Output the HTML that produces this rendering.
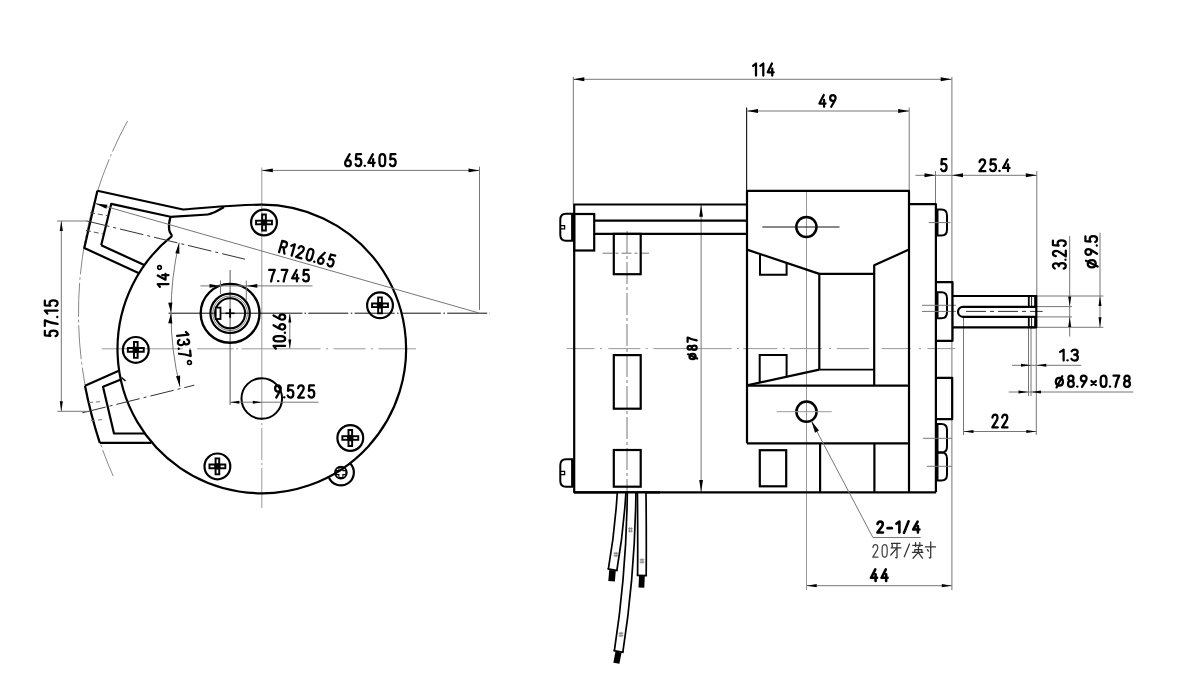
<!DOCTYPE html>
<html><head><meta charset="utf-8"><style>
html,body{margin:0;padding:0;background:#fff;}
svg{display:block;}
text{font-family:"Liberation Sans",sans-serif;stroke:currentColor;}
</style></head><body>
<svg width="1200" height="690" viewBox="0 0 1200 690">
<rect width="1200" height="690" fill="#fff"/>
<path d="M127.52,121.00 A400.5,400.5 0 0 0 113.17,476.00" stroke="#888" stroke-width="1" fill="none" stroke-dasharray="34 3 2.5 3"/>
<line x1="101.70" y1="348.80" x2="183.00" y2="348.80" stroke="#999" stroke-width="1" fill="none"/>
<line x1="189.00" y1="348.80" x2="191.00" y2="348.80" stroke="#999" stroke-width="1" fill="none"/>
<line x1="197.00" y1="348.80" x2="233.50" y2="348.80" stroke="#999" stroke-width="1" fill="none"/>
<line x1="236.00" y1="348.80" x2="238.00" y2="348.80" stroke="#999" stroke-width="1" fill="none"/>
<line x1="241.50" y1="348.80" x2="320.50" y2="348.80" stroke="#999" stroke-width="1" fill="none"/>
<line x1="326.00" y1="348.80" x2="328.00" y2="348.80" stroke="#999" stroke-width="1" fill="none"/>
<line x1="333.50" y1="348.80" x2="365.50" y2="348.80" stroke="#999" stroke-width="1" fill="none"/>
<line x1="371.00" y1="348.80" x2="373.00" y2="348.80" stroke="#999" stroke-width="1" fill="none"/>
<line x1="378.50" y1="348.80" x2="416.00" y2="348.80" stroke="#999" stroke-width="1" fill="none"/>
<line x1="261.80" y1="167.50" x2="261.80" y2="420.00" stroke="#999" stroke-width="1" fill="none"/>
<line x1="261.80" y1="423.00" x2="261.80" y2="425.00" stroke="#999" stroke-width="1" fill="none"/>
<line x1="261.80" y1="428.00" x2="261.80" y2="460.00" stroke="#999" stroke-width="1" fill="none"/>
<line x1="261.80" y1="463.00" x2="261.80" y2="465.00" stroke="#999" stroke-width="1" fill="none"/>
<line x1="261.80" y1="468.00" x2="261.80" y2="508.00" stroke="#999" stroke-width="1" fill="none"/>
<line x1="168.50" y1="313.20" x2="302.50" y2="313.20" stroke="#111" stroke-width="1" fill="none"/>
<line x1="304.50" y1="313.20" x2="306.00" y2="313.20" stroke="#111" stroke-width="1" fill="none"/>
<line x1="308.30" y1="313.20" x2="490.00" y2="313.20" stroke="#111" stroke-width="1" fill="none" stroke-dasharray="40 2.5 1.5 2.3"/>
<line x1="230.10" y1="270.00" x2="230.10" y2="405.00" stroke="#444" stroke-width="0.9" fill="none"/>
<path d="M261.80,204.70 A144.3,144.3 0 1 1 172.17,235.91" stroke="#000" stroke-width="2.2" fill="none" stroke-linejoin="round"/>
<path d="M97.4,190.7 L183,209.5 C210,207.6 235,204.7 261.8,204.7" stroke="#000" stroke-width="2.2" fill="none" stroke-linejoin="round"/>
<polyline points="97.40,190.70 84.30,248.00 138.50,273.00" stroke="#000" stroke-width="2.2" fill="none" stroke-linejoin="round"/>
<polyline points="101.20,245.30 111.20,203.90 170.50,216.80 208.00,214.50" stroke="#000" stroke-width="2.2" fill="none" stroke-linejoin="round"/>
<path d="M208,214.5 C214,213.3 218,210.5 224,207.0" stroke="#000" stroke-width="2.2" fill="none" stroke-linejoin="round"/>
<path d="M170.5,216.8 C169.2,221 168.6,226 169.2,230 C169.6,232.5 171.37,234.91 172.17,235.91" stroke="#000" stroke-width="2.2" fill="none" stroke-linejoin="round"/>
<polyline points="101.20,245.30 144.80,265.20" stroke="#000" stroke-width="2.2" fill="none" stroke-linejoin="round"/>
<line x1="90.00" y1="212.80" x2="107.00" y2="215.60" stroke="#555" stroke-width="1" stroke-dasharray="5 3"/>
<line x1="86.00" y1="230.40" x2="103.00" y2="234.00" stroke="#555" stroke-width="1" stroke-dasharray="5 3"/>
<polyline points="119.40,370.40 85.00,385.70" stroke="#000" stroke-width="2.2" fill="none" stroke-linejoin="round"/>
<path d="M85.0,385.7 Q90.5,414 99.8,442.9" stroke="#000" stroke-width="2.2" fill="none" stroke-linejoin="round"/>
<polyline points="99.80,442.90 151.20,442.90" stroke="#000" stroke-width="2.2" fill="none" stroke-linejoin="round"/>
<polyline points="120.90,379.60 103.00,386.70 114.00,433.50 145.00,433.50" stroke="#000" stroke-width="2.2" fill="none" stroke-linejoin="round"/>
<line x1="121.50" y1="377.50" x2="125.50" y2="381.00" stroke="#000" stroke-width="1.6"/>
<line x1="89.00" y1="402.50" x2="103.00" y2="401.50" stroke="#777" stroke-width="1" stroke-dasharray="4 3"/>
<line x1="91.00" y1="420.50" x2="104.00" y2="419.50" stroke="#777" stroke-width="1" stroke-dasharray="4 3"/>
<path d="M328.66,476.88 A13,13 0 1 0 350.04,463.18" stroke="#000" stroke-width="2.2" fill="none" stroke-linejoin="round"/>
<circle cx="340.90" cy="472.60" r="6.00" stroke="#000" stroke-width="1.6" fill="none"/>
<path d="M338.9,467.6 h4 v3 h3 v4 h-3 v3 h-4 v-3 h-3 v-4 h3 z" stroke="#000" stroke-width="1.1" fill="none"/>
<circle cx="264.00" cy="222.50" r="12.90" stroke="#000" stroke-width="2.2" fill="none"/>
<path d="M261.20,213.60 H266.80 V219.70 H272.90 V225.30 H266.80 V231.40 H261.20 V225.30 H255.10 V219.70 H261.20 Z" fill="#000"/>
<rect x="267.20" y="221.65" width="3.80" height="1.70" fill="#fff"/>
<rect x="257.00" y="221.65" width="3.80" height="1.70" fill="#fff"/>
<rect x="263.15" y="225.70" width="1.70" height="3.80" fill="#fff"/>
<rect x="263.15" y="215.50" width="1.70" height="3.80" fill="#fff"/>
<circle cx="380.00" cy="305.30" r="12.90" stroke="#000" stroke-width="2.2" fill="none"/>
<path d="M377.20,296.40 H382.80 V302.50 H388.90 V308.10 H382.80 V314.20 H377.20 V308.10 H371.10 V302.50 H377.20 Z" fill="#000"/>
<rect x="383.20" y="304.45" width="3.80" height="1.70" fill="#fff"/>
<rect x="373.00" y="304.45" width="3.80" height="1.70" fill="#fff"/>
<rect x="379.15" y="308.50" width="1.70" height="3.80" fill="#fff"/>
<rect x="379.15" y="298.30" width="1.70" height="3.80" fill="#fff"/>
<circle cx="135.80" cy="349.90" r="12.90" stroke="#000" stroke-width="2.2" fill="none"/>
<path d="M133.00,341.00 H138.60 V347.10 H144.70 V352.70 H138.60 V358.80 H133.00 V352.70 H126.90 V347.10 H133.00 Z" fill="#000"/>
<rect x="139.00" y="349.05" width="3.80" height="1.70" fill="#fff"/>
<rect x="128.80" y="349.05" width="3.80" height="1.70" fill="#fff"/>
<rect x="134.95" y="353.10" width="1.70" height="3.80" fill="#fff"/>
<rect x="134.95" y="342.90" width="1.70" height="3.80" fill="#fff"/>
<circle cx="217.40" cy="466.40" r="12.90" stroke="#000" stroke-width="2.2" fill="none"/>
<path d="M214.60,457.50 H220.20 V463.60 H226.30 V469.20 H220.20 V475.30 H214.60 V469.20 H208.50 V463.60 H214.60 Z" fill="#000"/>
<rect x="220.60" y="465.55" width="3.80" height="1.70" fill="#fff"/>
<rect x="210.40" y="465.55" width="3.80" height="1.70" fill="#fff"/>
<rect x="216.55" y="469.60" width="1.70" height="3.80" fill="#fff"/>
<rect x="216.55" y="459.40" width="1.70" height="3.80" fill="#fff"/>
<circle cx="350.30" cy="438.00" r="12.90" stroke="#000" stroke-width="2.2" fill="none"/>
<path d="M347.50,429.10 H353.10 V435.20 H359.20 V440.80 H353.10 V446.90 H347.50 V440.80 H341.40 V435.20 H347.50 Z" fill="#000"/>
<rect x="353.50" y="437.15" width="3.80" height="1.70" fill="#fff"/>
<rect x="343.30" y="437.15" width="3.80" height="1.70" fill="#fff"/>
<rect x="349.45" y="441.20" width="1.70" height="3.80" fill="#fff"/>
<rect x="349.45" y="431.00" width="1.70" height="3.80" fill="#fff"/>
<circle cx="230.10" cy="313.30" r="29.40" stroke="#000" stroke-width="2.4" fill="none"/>
<circle cx="230.10" cy="313.30" r="19.70" stroke="#000" stroke-width="2.2" fill="none"/>
<circle cx="230.10" cy="313.30" r="17.30" stroke="#222" stroke-width="0.6" fill="none"/>
<circle cx="230.10" cy="313.30" r="15.00" stroke="#000" stroke-width="2.1" fill="none"/>
<rect x="215.7" y="307.6" width="4.8" height="11.4" fill="#fff" stroke="#000" stroke-width="1.8"/>
<line x1="225.60" y1="313.30" x2="234.60" y2="313.30" stroke="#000" stroke-width="1.6"/>
<line x1="230.10" y1="308.80" x2="230.10" y2="317.80" stroke="#000" stroke-width="1.9"/>
<circle cx="261.80" cy="398.50" r="20.30" stroke="#000" stroke-width="2.0" fill="none"/>
<line x1="261.80" y1="170.40" x2="479.50" y2="170.40" stroke="#777" stroke-width="1" fill="none"/>
<polygon points="261.80,170.40 272.80,168.45 272.80,172.35" fill="#000"/>
<polygon points="479.50,170.40 468.50,172.35 468.50,168.45" fill="#000"/>
<line x1="479.50" y1="166.70" x2="479.50" y2="310.00" stroke="#777" stroke-width="1" fill="none"/>
<g transform="translate(344.00,167.30) rotate(0) translate(1.125,-13.175) scale(1.0380,1.0042)" fill="none" stroke="#000" stroke-width="2.25" stroke-linecap="round" stroke-linejoin="round" ><path vector-effect="non-scaling-stroke" transform="translate(0.000,0)" d="M4.4,0 L0.9,6.2 C0.3,7.2 0,8 0,9 C0,10.9 1.2,12 2.75,12 C4.3,12 5.5,10.9 5.5,9 C5.5,7.1 4.3,6 2.75,6 C1.9,6 1.2,6.3 0.8,6.8"/><path vector-effect="non-scaling-stroke" transform="translate(10.100,0)" d="M5.2,0 L0.7,0 L0.3,5.3 C1.0,4.7 1.9,4.4 2.8,4.4 C4.5,4.4 5.5,5.9 5.5,8.1 C5.5,10.5 4.3,12 2.6,12 C1.4,12 0.4,11.3 0,10.1"/><path vector-effect="non-scaling-stroke" transform="translate(18.800,0)" d="M0,11.7 L0.3,11.7"/><path vector-effect="non-scaling-stroke" transform="translate(22.300,0)" d="M4.4,0 L0,8.7 L6.2,8.7 M4.7,5.0 L4.7,12"/><path vector-effect="non-scaling-stroke" transform="translate(33.100,0)" d="M2.75,0 C4.7,0 5.5,1.6 5.5,4.2 L5.5,7.8 C5.5,10.4 4.7,12 2.75,12 C0.8,12 0,10.4 0,7.8 L0,4.2 C0,1.6 0.8,0 2.75,0 Z"/><path vector-effect="non-scaling-stroke" transform="translate(43.200,0)" d="M5.2,0 L0.7,0 L0.3,5.3 C1.0,4.7 1.9,4.4 2.8,4.4 C4.5,4.4 5.5,5.9 5.5,8.1 C5.5,10.5 4.3,12 2.6,12 C1.4,12 0.4,11.3 0,10.1"/></g>
<line x1="95.50" y1="203.50" x2="479.00" y2="313.00" stroke="#777" stroke-width="1" fill="none"/>
<polygon points="95.30,203.40 107.43,204.63 106.25,208.76" fill="#000"/>
<g transform="translate(277.70,252.90) rotate(15.7) translate(1.125,-12.875) scale(0.9901,0.9792)" fill="none" stroke="#000" stroke-width="2.25" stroke-linecap="round" stroke-linejoin="round" ><path vector-effect="non-scaling-stroke" transform="translate(0.000,0)" d="M0,12 L0,0 L3.2,0 C4.8,0 5.6,1.2 5.6,3.1 C5.6,5 4.7,6.2 3.1,6.2 L0,6.2 M3,6.2 L5.6,12"/><path vector-effect="non-scaling-stroke" transform="translate(10.200,0)" d="M0,2.4 L3,0 L3,12"/><path vector-effect="non-scaling-stroke" transform="translate(17.800,0)" d="M0.1,2.7 C0.4,0.9 1.4,0 2.8,0 C4.4,0 5.4,1.1 5.4,2.9 C5.4,4.3 4.8,5.3 3.8,6.5 L0,12 L5.6,12"/><path vector-effect="non-scaling-stroke" transform="translate(28.000,0)" d="M2.75,0 C4.7,0 5.5,1.6 5.5,4.2 L5.5,7.8 C5.5,10.4 4.7,12 2.75,12 C0.8,12 0,10.4 0,7.8 L0,4.2 C0,1.6 0.8,0 2.75,0 Z"/><path vector-effect="non-scaling-stroke" transform="translate(36.700,0)" d="M0,11.7 L0.3,11.7"/><path vector-effect="non-scaling-stroke" transform="translate(40.200,0)" d="M4.4,0 L0.9,6.2 C0.3,7.2 0,8 0,9 C0,10.9 1.2,12 2.75,12 C4.3,12 5.5,10.9 5.5,9 C5.5,7.1 4.3,6 2.75,6 C1.9,6 1.2,6.3 0.8,6.8"/><path vector-effect="non-scaling-stroke" transform="translate(50.300,0)" d="M5.2,0 L0.7,0 L0.3,5.3 C1.0,4.7 1.9,4.4 2.8,4.4 C4.5,4.4 5.5,5.9 5.5,8.1 C5.5,10.5 4.3,12 2.6,12 C1.4,12 0.4,11.3 0,10.1"/></g>
<line x1="200.40" y1="285.90" x2="312.50" y2="285.90" stroke="#777" stroke-width="1" fill="none"/>
<line x1="220.50" y1="280.50" x2="220.50" y2="294.00" stroke="#777" stroke-width="1" fill="none"/>
<line x1="246.30" y1="280.50" x2="246.30" y2="300.00" stroke="#777" stroke-width="1" fill="none"/>
<polygon points="220.50,285.90 209.50,287.85 209.50,283.95" fill="#000"/>
<polygon points="246.30,285.90 257.30,283.95 257.30,287.85" fill="#000"/>
<g transform="translate(268.00,282.60) rotate(0) translate(1.125,-12.675) scale(1.0298,0.9625)" fill="none" stroke="#000" stroke-width="2.25" stroke-linecap="round" stroke-linejoin="round" ><path vector-effect="non-scaling-stroke" transform="translate(0.000,0)" d="M0,0 L5.5,0 C3.8,3.5 2.6,7 1.9,12"/><path vector-effect="non-scaling-stroke" transform="translate(8.700,0)" d="M0,11.7 L0.3,11.7"/><path vector-effect="non-scaling-stroke" transform="translate(12.200,0)" d="M0,0 L5.5,0 C3.8,3.5 2.6,7 1.9,12"/><path vector-effect="non-scaling-stroke" transform="translate(22.300,0)" d="M4.4,0 L0,8.7 L6.2,8.7 M4.7,5.0 L4.7,12"/><path vector-effect="non-scaling-stroke" transform="translate(33.100,0)" d="M5.2,0 L0.7,0 L0.3,5.3 C1.0,4.7 1.9,4.4 2.8,4.4 C4.5,4.4 5.5,5.9 5.5,8.1 C5.5,10.5 4.3,12 2.6,12 C1.4,12 0.4,11.3 0,10.1"/></g>
<line x1="289.80" y1="313.30" x2="289.80" y2="348.60" stroke="#777" stroke-width="1" fill="none"/>
<polygon points="289.80,313.60 291.30,322.60 288.30,322.60" fill="#000"/>
<polygon points="289.80,348.40 288.30,339.40 291.30,339.40" fill="#000"/>
<g transform="translate(286.30,349.80) rotate(-90) translate(1.125,-12.775) scale(0.9675,0.9708)" fill="none" stroke="#000" stroke-width="2.25" stroke-linecap="round" stroke-linejoin="round" ><path vector-effect="non-scaling-stroke" transform="translate(0.000,0)" d="M0,2.4 L3,0 L3,12"/><path vector-effect="non-scaling-stroke" transform="translate(7.600,0)" d="M2.75,0 C4.7,0 5.5,1.6 5.5,4.2 L5.5,7.8 C5.5,10.4 4.7,12 2.75,12 C0.8,12 0,10.4 0,7.8 L0,4.2 C0,1.6 0.8,0 2.75,0 Z"/><path vector-effect="non-scaling-stroke" transform="translate(16.300,0)" d="M0,11.7 L0.3,11.7"/><path vector-effect="non-scaling-stroke" transform="translate(19.800,0)" d="M4.4,0 L0.9,6.2 C0.3,7.2 0,8 0,9 C0,10.9 1.2,12 2.75,12 C4.3,12 5.5,10.9 5.5,9 C5.5,7.1 4.3,6 2.75,6 C1.9,6 1.2,6.3 0.8,6.8"/><path vector-effect="non-scaling-stroke" transform="translate(29.900,0)" d="M4.4,0 L0.9,6.2 C0.3,7.2 0,8 0,9 C0,10.9 1.2,12 2.75,12 C4.3,12 5.5,10.9 5.5,9 C5.5,7.1 4.3,6 2.75,6 C1.9,6 1.2,6.3 0.8,6.8"/></g>
<line x1="230.10" y1="402.20" x2="318.50" y2="402.20" stroke="#777" stroke-width="1" fill="none"/>
<polygon points="230.30,402.20 239.30,400.70 239.30,403.70" fill="#000"/>
<polygon points="261.80,402.20 252.80,403.70 252.80,400.70" fill="#000"/>
<g transform="translate(274.00,398.70) rotate(0) translate(1.125,-13.275) scale(1.0303,1.0125)" fill="none" stroke="#000" stroke-width="2.25" stroke-linecap="round" stroke-linejoin="round" ><path vector-effect="non-scaling-stroke" transform="translate(0.000,0)" d="M1.1,12 L4.6,5.8 C5.2,4.8 5.5,4 5.5,3 C5.5,1.1 4.3,0 2.75,0 C1.2,0 0,1.1 0,3 C0,4.9 1.2,6 2.75,6 C3.6,6 4.3,5.7 4.7,5.2"/><path vector-effect="non-scaling-stroke" transform="translate(8.700,0)" d="M0,11.7 L0.3,11.7"/><path vector-effect="non-scaling-stroke" transform="translate(12.200,0)" d="M5.2,0 L0.7,0 L0.3,5.3 C1.0,4.7 1.9,4.4 2.8,4.4 C4.5,4.4 5.5,5.9 5.5,8.1 C5.5,10.5 4.3,12 2.6,12 C1.4,12 0.4,11.3 0,10.1"/><path vector-effect="non-scaling-stroke" transform="translate(22.300,0)" d="M0.1,2.7 C0.4,0.9 1.4,0 2.8,0 C4.4,0 5.4,1.1 5.4,2.9 C5.4,4.3 4.8,5.3 3.8,6.5 L0,12 L5.6,12"/><path vector-effect="non-scaling-stroke" transform="translate(32.500,0)" d="M5.2,0 L0.7,0 L0.3,5.3 C1.0,4.7 1.9,4.4 2.8,4.4 C4.5,4.4 5.5,5.9 5.5,8.1 C5.5,10.5 4.3,12 2.6,12 C1.4,12 0.4,11.3 0,10.1"/></g>
<path d="M179.14,242.67 A308,308 0 0 0 171.00,313.00 A308,308 0 0 0 179.95,386.73" stroke="#777" stroke-width="1" fill="none"/>
<polygon points="179.14,242.67 179.45,253.86 175.31,253.19" fill="#000"/>
<polygon points="171.00,312.70 168.21,302.87 172.40,302.58" fill="#000"/>
<polygon points="171.00,313.30 172.40,323.42 168.21,323.13" fill="#000"/>
<polygon points="179.95,386.73 176.00,376.25 180.14,375.53" fill="#000"/>
<g transform="translate(169.60,288.00) rotate(-90) translate(1.125,-11.875) scale(0.9487,0.8958)" fill="none" stroke="#000" stroke-width="2.25" stroke-linecap="round" stroke-linejoin="round" ><path vector-effect="non-scaling-stroke" transform="translate(0.000,0)" d="M0,2.4 L3,0 L3,12"/><path vector-effect="non-scaling-stroke" transform="translate(7.600,0)" d="M4.4,0 L0,8.7 L6.2,8.7 M4.7,5.0 L4.7,12"/><path vector-effect="non-scaling-stroke" transform="translate(18.400,0)" stroke-width="1.69" d="M2,0 C3.1,0 4,0.9 4,2 C4,3.1 3.1,4 2,4 C0.9,4 0,3.1 0,2 C0,0.9 0.9,0 2,0 Z"/></g>
<g transform="translate(175.60,331.90) rotate(84) translate(1.125,-12.475) scale(0.9661,0.9458)" fill="none" stroke="#000" stroke-width="2.25" stroke-linecap="round" stroke-linejoin="round" ><path vector-effect="non-scaling-stroke" transform="translate(0.000,0)" d="M0,2.4 L3,0 L3,12"/><path vector-effect="non-scaling-stroke" transform="translate(7.600,0)" d="M0.2,1.7 C0.7,0.5 1.6,0 2.8,0 C4.4,0 5.3,1.1 5.3,2.8 C5.3,4.5 4.2,5.5 2.4,5.5 C4.4,5.5 5.5,6.7 5.5,8.6 C5.5,10.7 4.3,12 2.7,12 C1.4,12 0.4,11.3 0,10.1"/><path vector-effect="non-scaling-stroke" transform="translate(16.300,0)" d="M0,11.7 L0.3,11.7"/><path vector-effect="non-scaling-stroke" transform="translate(19.800,0)" d="M0,0 L5.5,0 C3.8,3.5 2.6,7 1.9,12"/><path vector-effect="non-scaling-stroke" transform="translate(29.900,0)" stroke-width="1.69" d="M2,0 C3.1,0 4,0.9 4,2 C4,3.1 3.1,4 2,4 C0.9,4 0,3.1 0,2 C0,0.9 0.9,0 2,0 Z"/></g>
<line x1="86.00" y1="220.80" x2="245.00" y2="259.20" stroke="#333" stroke-width="1" stroke-dasharray="24 4 3 4"/>
<line x1="82.40" y1="412.80" x2="194.30" y2="385.20" stroke="#333" stroke-width="1" stroke-dasharray="24 4 3 4"/>
<line x1="61.30" y1="221.00" x2="61.30" y2="411.30" stroke="#777" stroke-width="1" fill="none"/>
<line x1="57.00" y1="221.00" x2="86.00" y2="221.00" stroke="#777" stroke-width="1" fill="none"/>
<line x1="57.40" y1="411.30" x2="87.80" y2="411.30" stroke="#777" stroke-width="1" fill="none"/>
<polygon points="61.30,221.00 62.90,231.00 59.70,231.00" fill="#000"/>
<polygon points="61.30,411.30 59.70,401.30 62.90,401.30" fill="#000"/>
<g transform="translate(58.70,337.20) rotate(-90) translate(1.125,-13.875) scale(1.0071,1.0625)" fill="none" stroke="#000" stroke-width="2.25" stroke-linecap="round" stroke-linejoin="round" ><path vector-effect="non-scaling-stroke" transform="translate(0.000,0)" d="M5.2,0 L0.7,0 L0.3,5.3 C1.0,4.7 1.9,4.4 2.8,4.4 C4.5,4.4 5.5,5.9 5.5,8.1 C5.5,10.5 4.3,12 2.6,12 C1.4,12 0.4,11.3 0,10.1"/><path vector-effect="non-scaling-stroke" transform="translate(10.100,0)" d="M0,0 L5.5,0 C3.8,3.5 2.6,7 1.9,12"/><path vector-effect="non-scaling-stroke" transform="translate(18.800,0)" d="M0,11.7 L0.3,11.7"/><path vector-effect="non-scaling-stroke" transform="translate(22.300,0)" d="M0,2.4 L3,0 L3,12"/><path vector-effect="non-scaling-stroke" transform="translate(29.900,0)" d="M5.2,0 L0.7,0 L0.3,5.3 C1.0,4.7 1.9,4.4 2.8,4.4 C4.5,4.4 5.5,5.9 5.5,8.1 C5.5,10.5 4.3,12 2.6,12 C1.4,12 0.4,11.3 0,10.1"/></g>
<line x1="573.30" y1="77.00" x2="573.30" y2="204.50" stroke="#777" stroke-width="1" fill="none"/>
<line x1="951.90" y1="77.00" x2="951.90" y2="590.00" stroke="#777" stroke-width="1" fill="none"/>
<line x1="746.60" y1="107.50" x2="746.60" y2="190.80" stroke="#222" stroke-width="1.2"/>
<line x1="909.20" y1="107.50" x2="909.20" y2="190.80" stroke="#777" stroke-width="1" fill="none"/>
<line x1="935.50" y1="171.00" x2="935.50" y2="204.00" stroke="#777" stroke-width="1" fill="none"/>
<line x1="1036.80" y1="171.00" x2="1036.80" y2="296.00" stroke="#777" stroke-width="1" fill="none"/>
<line x1="1036.30" y1="327.00" x2="1036.30" y2="435.00" stroke="#777" stroke-width="1" fill="none"/>
<line x1="963.50" y1="317.00" x2="963.50" y2="435.00" stroke="#777" stroke-width="1" fill="none"/>
<line x1="1028.50" y1="327.00" x2="1028.50" y2="396.00" stroke="#777" stroke-width="1" fill="none"/>
<line x1="1031.00" y1="327.00" x2="1031.00" y2="396.00" stroke="#777" stroke-width="1" fill="none"/>
<line x1="1036.00" y1="296.00" x2="1103.40" y2="296.00" stroke="#777" stroke-width="1" fill="none"/>
<line x1="1036.00" y1="327.30" x2="1103.40" y2="327.30" stroke="#777" stroke-width="1" fill="none"/>
<line x1="1036.00" y1="306.60" x2="1072.00" y2="306.60" stroke="#777" stroke-width="1" fill="none"/>
<line x1="1036.00" y1="316.90" x2="1072.00" y2="316.90" stroke="#777" stroke-width="1" fill="none"/>
<line x1="566.70" y1="348.60" x2="594.50" y2="348.60" stroke="#999" stroke-width="1" fill="none"/>
<line x1="600.00" y1="348.60" x2="602.00" y2="348.60" stroke="#999" stroke-width="1" fill="none"/>
<line x1="608.30" y1="348.60" x2="640.30" y2="348.60" stroke="#999" stroke-width="1" fill="none"/>
<line x1="645.70" y1="348.60" x2="647.70" y2="348.60" stroke="#999" stroke-width="1" fill="none"/>
<line x1="653.30" y1="348.60" x2="731.70" y2="348.60" stroke="#999" stroke-width="1" fill="none"/>
<line x1="737.00" y1="348.60" x2="739.00" y2="348.60" stroke="#999" stroke-width="1" fill="none"/>
<line x1="743.30" y1="348.60" x2="777.50" y2="348.60" stroke="#999" stroke-width="1" fill="none"/>
<line x1="782.80" y1="348.60" x2="784.80" y2="348.60" stroke="#999" stroke-width="1" fill="none"/>
<line x1="790.00" y1="348.60" x2="822.00" y2="348.60" stroke="#999" stroke-width="1" fill="none"/>
<line x1="829.00" y1="348.60" x2="831.00" y2="348.60" stroke="#999" stroke-width="1" fill="none"/>
<line x1="836.70" y1="348.60" x2="869.20" y2="348.60" stroke="#999" stroke-width="1" fill="none"/>
<line x1="873.00" y1="348.60" x2="875.00" y2="348.60" stroke="#999" stroke-width="1" fill="none"/>
<line x1="881.70" y1="348.60" x2="910.80" y2="348.60" stroke="#999" stroke-width="1" fill="none"/>
<line x1="919.00" y1="348.60" x2="921.00" y2="348.60" stroke="#999" stroke-width="1" fill="none"/>
<line x1="927.50" y1="348.60" x2="955.00" y2="348.60" stroke="#999" stroke-width="1" fill="none"/>
<line x1="806.50" y1="191.00" x2="806.50" y2="590.00" stroke="#999" stroke-width="1" fill="none"/>
<line x1="627.00" y1="231.00" x2="627.00" y2="492.00" stroke="#777" stroke-width="1" stroke-dasharray="22 3 3 3"/>
<line x1="602.50" y1="253.20" x2="649.00" y2="253.20" stroke="#777" stroke-width="1" stroke-dasharray="10 3 3 3"/>
<line x1="966.00" y1="311.40" x2="1042.60" y2="311.40" stroke="#333" stroke-width="1" stroke-dasharray="20 4 4 4"/>
<line x1="701.10" y1="204.50" x2="701.10" y2="492.30" stroke="#777" stroke-width="1" fill="none"/>
<polyline points="747.00,204.50 574.20,204.50 574.20,492.30 935.90,492.30" stroke="#000" stroke-width="2.2" fill="none" stroke-linejoin="round"/>
<path d="M573,213.8 H566 Q560.3,213.8 560.3,219.8 V234.7 Q560.3,240.7 566,240.7 H573" stroke="#000" stroke-width="2" fill="none"/>
<line x1="572.60" y1="213.80" x2="572.60" y2="240.70" stroke="#000" stroke-width="3"/>
<path d="M560.5,225.7 H564.6 V228.8 H560.5" stroke="#000" stroke-width="1.3" fill="none"/>
<path d="M573,459.3 H566 Q560.3,459.3 560.3,465.3 V480.7 Q560.3,486.7 566,486.7 H573" stroke="#000" stroke-width="2" fill="none"/>
<line x1="572.60" y1="459.30" x2="572.60" y2="486.70" stroke="#000" stroke-width="3"/>
<path d="M560.5,471.4 H564.6 V474.6 H560.5" stroke="#000" stroke-width="1.3" fill="none"/>
<rect x="574.2" y="214" width="20" height="36.5" stroke="#000" stroke-width="2.2" fill="none"/>
<line x1="594.20" y1="220.60" x2="747.00" y2="220.60" stroke="#000" stroke-width="2.2" fill="none" stroke-linejoin="round"/>
<line x1="594.20" y1="233.90" x2="747.00" y2="233.90" stroke="#000" stroke-width="2.2" fill="none" stroke-linejoin="round"/>
<rect x="613.8" y="233.9" width="26.9" height="40.3" stroke="#000" stroke-width="2.2" fill="none"/>
<rect x="613.8" y="355.1" width="26.9" height="53.6" stroke="#000" stroke-width="2.2" fill="none"/>
<rect x="613.8" y="450" width="26.9" height="36.7" stroke="#000" stroke-width="2.2" fill="none"/>
<polyline points="747.00,443.30 747.00,190.80 909.00,190.80 909.00,492.30" stroke="#000" stroke-width="2.2" fill="none" stroke-linejoin="round"/>
<line x1="747.00" y1="385.60" x2="909.00" y2="385.60" stroke="#000" stroke-width="2.2" fill="none" stroke-linejoin="round"/>
<line x1="747.00" y1="443.30" x2="909.00" y2="443.30" stroke="#000" stroke-width="2.2" fill="none" stroke-linejoin="round"/>
<polyline points="747.00,249.60 819.30,273.90 819.30,369.60" stroke="#000" stroke-width="2.2" fill="none" stroke-linejoin="round"/>
<line x1="819.30" y1="273.90" x2="874.20" y2="273.90" stroke="#000" stroke-width="2.2" fill="none" stroke-linejoin="round"/>
<polyline points="909.00,249.60 874.20,265.20 874.20,385.60" stroke="#000" stroke-width="2.2" fill="none" stroke-linejoin="round"/>
<line x1="819.30" y1="369.60" x2="874.20" y2="369.60" stroke="#000" stroke-width="1.8"/>
<line x1="819.30" y1="369.60" x2="747.00" y2="385.40" stroke="#000" stroke-width="2.2" fill="none" stroke-linejoin="round"/>
<polyline points="760.00,254.00 760.00,274.80 786.60,274.80 786.60,262.90" stroke="#000" stroke-width="2" fill="none"/>
<polyline points="759.70,382.50 759.70,355.10 786.60,355.10 786.60,376.70" stroke="#000" stroke-width="2" fill="none"/>
<rect x="759.8" y="450.2" width="26.4" height="36.1" stroke="#000" stroke-width="2.2" fill="none"/>
<line x1="820.10" y1="443.30" x2="820.10" y2="492.30" stroke="#000" stroke-width="2.2" fill="none" stroke-linejoin="round"/>
<line x1="874.40" y1="443.30" x2="874.40" y2="492.30" stroke="#000" stroke-width="2.2" fill="none" stroke-linejoin="round"/>
<circle cx="806.40" cy="227.00" r="10.10" stroke="#000" stroke-width="2.5" fill="none"/>
<line x1="762.30" y1="227.00" x2="839.50" y2="227.00" stroke="#111" stroke-width="1"/>
<circle cx="806.50" cy="411.70" r="10.10" stroke="#000" stroke-width="2.5" fill="none"/>
<line x1="776.70" y1="411.70" x2="831.70" y2="411.70" stroke="#999" stroke-width="1" fill="none"/>
<polyline points="909.00,204.10 935.90,204.10 935.90,492.30" stroke="#000" stroke-width="2.2" fill="none" stroke-linejoin="round"/>
<path d="M936.5,209.6 H941.5 Q947,209.6 947,215.6 V229.6 Q947,235.6 941.5,235.6 H936.5" stroke="#000" stroke-width="2" fill="none"/>
<line x1="937.00" y1="209.60" x2="937.00" y2="235.60" stroke="#000" stroke-width="3"/>
<path d="M936.5,292.2 H941.5 Q947,292.2 947,298.2 V312.3 Q947,318.3 941.5,318.3 H936.5" stroke="#000" stroke-width="2" fill="none"/>
<line x1="937.00" y1="292.20" x2="937.00" y2="318.30" stroke="#000" stroke-width="3"/>
<path d="M936.5,424.0 H941.5 Q947,424.0 947,430.0 V446.4 Q947,452.4 941.5,452.4 H936.5" stroke="#000" stroke-width="2" fill="none"/>
<line x1="937.00" y1="424.00" x2="937.00" y2="452.40" stroke="#000" stroke-width="3"/>
<path d="M936.5,452.4 H941.5 Q947,452.4 947,458.4 V474.5 Q947,480.5 941.5,480.5 H936.5" stroke="#000" stroke-width="2" fill="none"/>
<line x1="937.00" y1="452.40" x2="937.00" y2="480.50" stroke="#000" stroke-width="3"/>
<line x1="928.70" y1="222.60" x2="950.40" y2="222.60" stroke="#777" stroke-width="1" fill="none"/>
<line x1="922.00" y1="305.30" x2="956.00" y2="305.30" stroke="#777" stroke-width="1" fill="none"/>
<line x1="922.00" y1="311.40" x2="956.00" y2="311.40" stroke="#777" stroke-width="1" fill="none"/>
<line x1="923.00" y1="438.30" x2="952.00" y2="438.30" stroke="#777" stroke-width="1" fill="none"/>
<line x1="927.00" y1="466.30" x2="952.00" y2="466.30" stroke="#777" stroke-width="1" fill="none"/>
<polyline points="935.90,282.20 952.50,282.20 952.50,340.80 935.90,340.80" stroke="#000" stroke-width="2.2" fill="none" stroke-linejoin="round"/>
<polyline points="935.90,377.80 952.20,377.80 952.20,419.10 935.90,419.10" stroke="#000" stroke-width="2.2" fill="none" stroke-linejoin="round"/>
<polyline points="952.50,296.00 1036.30,296.00 1036.30,327.30 952.50,327.30" stroke="#000" stroke-width="2.2" fill="none" stroke-linejoin="round"/>
<rect x="1028.8" y="296" width="7.0" height="10.8" rx="1.2" fill="none" stroke="#000" stroke-width="1.8"/>
<line x1="1031.60" y1="296.00" x2="1031.60" y2="306.80" stroke="#000" stroke-width="0.9"/>
<line x1="1035.00" y1="296.00" x2="1035.00" y2="306.80" stroke="#000" stroke-width="1.6"/>
<rect x="1028.8" y="316.8" width="7.0" height="10.5" rx="1.2" fill="none" stroke="#000" stroke-width="1.8"/>
<line x1="1031.60" y1="316.80" x2="1031.60" y2="327.30" stroke="#000" stroke-width="0.9"/>
<line x1="1035.00" y1="316.80" x2="1035.00" y2="327.30" stroke="#000" stroke-width="1.6"/>
<path d="M1036,306.8 H963 A5,5 0 0 0 963,316.8 H1036" stroke="#000" stroke-width="2.2" fill="none" stroke-linejoin="round"/>
<path d="M641.7,492.5 Q642.2,535 641.9,575.5" fill="none" stroke="#000" stroke-width="10.30"/>
<path d="M641.7,492.5 Q642.2,535 641.9,575.5" fill="none" stroke="#fff" stroke-width="6.90"/>
<line x1="636.75" y1="575.46" x2="647.05" y2="575.54" stroke="#000" stroke-width="1.7"/>
<line x1="641.90" y1="576.00" x2="641.4" y2="587.7" stroke="#000" stroke-width="5.8"/>
<path d="M631.6,492.5 Q630.8,573 618.6,651.5" fill="none" stroke="#000" stroke-width="10.30"/>
<path d="M631.6,492.5 Q630.8,573 618.6,651.5" fill="none" stroke="#fff" stroke-width="6.90"/>
<line x1="613.51" y1="650.71" x2="623.69" y2="652.29" stroke="#000" stroke-width="1.7"/>
<line x1="618.52" y1="651.99" x2="616.4" y2="663.3" stroke="#000" stroke-width="6.2"/>
<path d="M621.6,492.5 Q619.2,532 612.6,569.8" fill="none" stroke="#000" stroke-width="10.30"/>
<path d="M621.6,492.5 Q619.2,532 612.6,569.8" fill="none" stroke="#fff" stroke-width="6.90"/>
<line x1="607.53" y1="568.91" x2="617.67" y2="570.69" stroke="#000" stroke-width="1.7"/>
<line x1="612.51" y1="570.29" x2="611.6" y2="581.2" stroke="#000" stroke-width="6.6"/>
<path d="M613.5,553.3 h4.8 M613.5,555.7 h4.8 M615.0,551.9 v5.2 M616.8,551.9 v5.2" stroke="#777" stroke-width="0.8"/>
<path d="M628.0,528.6999999999999 h4.8 M628.0,531.1 h4.8 M629.5,527.3 v5.2 M631.3,527.3 v5.2" stroke="#777" stroke-width="0.8"/>
<path d="M639.6,559.8 h4.8 M639.6,562.2 h4.8 M641.1,558.4 v5.2 M642.9,558.4 v5.2" stroke="#777" stroke-width="0.8"/>
<path d="M618.6,633.3 h4.8 M618.6,635.7 h4.8 M620.1,631.9 v5.2 M621.9,631.9 v5.2" stroke="#777" stroke-width="0.8"/>
<line x1="574.20" y1="492.30" x2="660.00" y2="492.30" stroke="#000" stroke-width="2.2" fill="none" stroke-linejoin="round"/>
<line x1="573.30" y1="79.30" x2="951.70" y2="79.30" stroke="#777" stroke-width="1" fill="none"/>
<polygon points="573.30,79.30 584.30,77.35 584.30,81.25" fill="#000"/>
<polygon points="951.70,79.30 940.70,81.25 940.70,77.35" fill="#000"/>
<g transform="translate(752.00,76.70) rotate(0) translate(1.125,-13.175) scale(0.9603,1.0042)" fill="none" stroke="#000" stroke-width="2.25" stroke-linecap="round" stroke-linejoin="round" ><path vector-effect="non-scaling-stroke" transform="translate(0.000,0)" d="M0,2.4 L3,0 L3,12"/><path vector-effect="non-scaling-stroke" transform="translate(7.600,0)" d="M0,2.4 L3,0 L3,12"/><path vector-effect="non-scaling-stroke" transform="translate(15.200,0)" d="M4.4,0 L0,8.7 L6.2,8.7 M4.7,5.0 L4.7,12"/></g>
<line x1="746.70" y1="111.00" x2="909.30" y2="111.00" stroke="#777" stroke-width="1" fill="none"/>
<polygon points="747.00,111.00 758.00,109.05 758.00,112.95" fill="#000"/>
<polygon points="909.20,111.00 898.20,112.95 898.20,109.05" fill="#000"/>
<g transform="translate(818.30,107.90) rotate(0) translate(1.125,-12.875) scale(0.9908,0.9792)" fill="none" stroke="#000" stroke-width="2.25" stroke-linecap="round" stroke-linejoin="round" ><path vector-effect="non-scaling-stroke" transform="translate(0.000,0)" d="M4.4,0 L0,8.7 L6.2,8.7 M4.7,5.0 L4.7,12"/><path vector-effect="non-scaling-stroke" transform="translate(10.800,0)" d="M1.1,12 L4.6,5.8 C5.2,4.8 5.5,4 5.5,3 C5.5,1.1 4.3,0 2.75,0 C1.2,0 0,1.1 0,3 C0,4.9 1.2,6 2.75,6 C3.6,6 4.3,5.7 4.7,5.2"/></g>
<line x1="915.50" y1="175.30" x2="1036.80" y2="175.30" stroke="#777" stroke-width="1" fill="none"/>
<polygon points="935.50,175.30 924.50,177.25 924.50,173.35" fill="#000"/>
<polygon points="952.00,175.30 963.00,173.35 963.00,177.25" fill="#000"/>
<polygon points="1036.80,175.30 1025.80,177.25 1025.80,173.35" fill="#000"/>
<g transform="translate(940.00,172.30) rotate(0) translate(1.125,-13.175) scale(0.9909,1.0042)" fill="none" stroke="#000" stroke-width="2.25" stroke-linecap="round" stroke-linejoin="round" ><path vector-effect="non-scaling-stroke" transform="translate(0.000,0)" d="M5.2,0 L0.7,0 L0.3,5.3 C1.0,4.7 1.9,4.4 2.8,4.4 C4.5,4.4 5.5,5.9 5.5,8.1 C5.5,10.5 4.3,12 2.6,12 C1.4,12 0.4,11.3 0,10.1"/></g>
<g transform="translate(978.30,172.30) rotate(0) translate(1.125,-12.875) scale(1.0542,0.9792)" fill="none" stroke="#000" stroke-width="2.25" stroke-linecap="round" stroke-linejoin="round" ><path vector-effect="non-scaling-stroke" transform="translate(0.000,0)" d="M0.1,2.7 C0.4,0.9 1.4,0 2.8,0 C4.4,0 5.4,1.1 5.4,2.9 C5.4,4.3 4.8,5.3 3.8,6.5 L0,12 L5.6,12"/><path vector-effect="non-scaling-stroke" transform="translate(10.200,0)" d="M5.2,0 L0.7,0 L0.3,5.3 C1.0,4.7 1.9,4.4 2.8,4.4 C4.5,4.4 5.5,5.9 5.5,8.1 C5.5,10.5 4.3,12 2.6,12 C1.4,12 0.4,11.3 0,10.1"/><path vector-effect="non-scaling-stroke" transform="translate(18.900,0)" d="M0,11.7 L0.3,11.7"/><path vector-effect="non-scaling-stroke" transform="translate(22.400,0)" d="M4.4,0 L0,8.7 L6.2,8.7 M4.7,5.0 L4.7,12"/></g>
<line x1="1069.70" y1="236.00" x2="1069.70" y2="336.50" stroke="#777" stroke-width="1" fill="none"/>
<polygon points="1069.70,306.60 1068.20,296.60 1071.20,296.60" fill="#000"/>
<polygon points="1069.70,316.90 1071.20,326.90 1068.20,326.90" fill="#000"/>
<g transform="translate(1066.90,269.80) rotate(-90) translate(1.125,-13.975) scale(1.0161,1.0708)" fill="none" stroke="#000" stroke-width="2.25" stroke-linecap="round" stroke-linejoin="round" ><path vector-effect="non-scaling-stroke" transform="translate(0.000,0)" d="M0.2,1.7 C0.7,0.5 1.6,0 2.8,0 C4.4,0 5.3,1.1 5.3,2.8 C5.3,4.5 4.2,5.5 2.4,5.5 C4.4,5.5 5.5,6.7 5.5,8.6 C5.5,10.7 4.3,12 2.7,12 C1.4,12 0.4,11.3 0,10.1"/><path vector-effect="non-scaling-stroke" transform="translate(8.700,0)" d="M0,11.7 L0.3,11.7"/><path vector-effect="non-scaling-stroke" transform="translate(12.200,0)" d="M0.1,2.7 C0.4,0.9 1.4,0 2.8,0 C4.4,0 5.4,1.1 5.4,2.9 C5.4,4.3 4.8,5.3 3.8,6.5 L0,12 L5.6,12"/><path vector-effect="non-scaling-stroke" transform="translate(22.400,0)" d="M5.2,0 L0.7,0 L0.3,5.3 C1.0,4.7 1.9,4.4 2.8,4.4 C4.5,4.4 5.5,5.9 5.5,8.1 C5.5,10.5 4.3,12 2.6,12 C1.4,12 0.4,11.3 0,10.1"/></g>
<line x1="1100.00" y1="232.70" x2="1100.00" y2="327.30" stroke="#777" stroke-width="1" fill="none"/>
<polygon points="1100.00,296.00 1101.50,306.00 1098.50,306.00" fill="#000"/>
<polygon points="1100.00,327.30 1098.50,317.30 1101.50,317.30" fill="#000"/>
<g transform="translate(1098.20,268.60) rotate(-90) translate(1.125,-12.775) scale(1.0627,0.9708)" fill="none" stroke="#000" stroke-width="2.25" stroke-linecap="round" stroke-linejoin="round" ><path vector-effect="non-scaling-stroke" transform="translate(0.000,0)" d="M3.6,2.4 C5.5,2.4 7.0,4.0 7.0,6.8 C7.0,9.4 5.6,10.6 3.6,10.6 C1.6,10.6 0.2,9.4 0.2,6.8 C0.2,4.0 1.7,2.4 3.6,2.4 Z M0.9,12.6 L6.3,0.6"/><path vector-effect="non-scaling-stroke" transform="translate(11.800,0)" d="M1.1,12 L4.6,5.8 C5.2,4.8 5.5,4 5.5,3 C5.5,1.1 4.3,0 2.75,0 C1.2,0 0,1.1 0,3 C0,4.9 1.2,6 2.75,6 C3.6,6 4.3,5.7 4.7,5.2"/><path vector-effect="non-scaling-stroke" transform="translate(20.500,0)" d="M0,11.7 L0.3,11.7"/><path vector-effect="non-scaling-stroke" transform="translate(24.000,0)" d="M5.2,0 L0.7,0 L0.3,5.3 C1.0,4.7 1.9,4.4 2.8,4.4 C4.5,4.4 5.5,5.9 5.5,8.1 C5.5,10.5 4.3,12 2.6,12 C1.4,12 0.4,11.3 0,10.1"/></g>
<line x1="1012.00" y1="365.30" x2="1081.30" y2="365.30" stroke="#777" stroke-width="1" fill="none"/>
<polygon points="1031.00,365.30 1021.00,366.80 1021.00,363.80" fill="#000"/>
<polygon points="1036.30,365.30 1046.30,363.80 1046.30,366.80" fill="#000"/>
<g transform="translate(1059.00,361.70) rotate(0) translate(1.125,-11.975) scale(1.1678,0.9042)" fill="none" stroke="#000" stroke-width="2.25" stroke-linecap="round" stroke-linejoin="round" ><path vector-effect="non-scaling-stroke" transform="translate(0.000,0)" d="M0,2.4 L3,0 L3,12"/><path vector-effect="non-scaling-stroke" transform="translate(6.200,0)" d="M0,11.7 L0.3,11.7"/><path vector-effect="non-scaling-stroke" transform="translate(9.700,0)" d="M0.2,1.7 C0.7,0.5 1.6,0 2.8,0 C4.4,0 5.3,1.1 5.3,2.8 C5.3,4.5 4.2,5.5 2.4,5.5 C4.4,5.5 5.5,6.7 5.5,8.6 C5.5,10.7 4.3,12 2.7,12 C1.4,12 0.4,11.3 0,10.1"/></g>
<line x1="1008.70" y1="392.00" x2="1133.30" y2="392.00" stroke="#777" stroke-width="1" fill="none"/>
<polygon points="1028.50,392.00 1018.50,393.50 1018.50,390.50" fill="#000"/>
<polygon points="1031.00,392.00 1041.00,390.50 1041.00,393.50" fill="#000"/>
<g transform="translate(1054.50,388.00) rotate(0) translate(1.125,-12.375) scale(1.0502,0.9375)" fill="none" stroke="#000" stroke-width="2.25" stroke-linecap="round" stroke-linejoin="round" ><path vector-effect="non-scaling-stroke" transform="translate(0.000,0)" d="M3.6,2.4 C5.5,2.4 7.0,4.0 7.0,6.8 C7.0,9.4 5.6,10.6 3.6,10.6 C1.6,10.6 0.2,9.4 0.2,6.8 C0.2,4.0 1.7,2.4 3.6,2.4 Z M0.9,12.6 L6.3,0.6"/><path vector-effect="non-scaling-stroke" transform="translate(11.800,0)" d="M2.75,5.6 C1.2,5.6 0.3,4.5 0.3,2.8 C0.3,1.1 1.3,0 2.75,0 C4.2,0 5.2,1.1 5.2,2.8 C5.2,4.5 4.3,5.6 2.75,5.6 C1.1,5.6 0,6.9 0,8.8 C0,10.8 1.2,12 2.75,12 C4.3,12 5.5,10.8 5.5,8.8 C5.5,6.9 4.4,5.6 2.75,5.6 Z"/><path vector-effect="non-scaling-stroke" transform="translate(20.500,0)" d="M0,11.7 L0.3,11.7"/><path vector-effect="non-scaling-stroke" transform="translate(24.000,0)" d="M1.1,12 L4.6,5.8 C5.2,4.8 5.5,4 5.5,3 C5.5,1.1 4.3,0 2.75,0 C1.2,0 0,1.1 0,3 C0,4.9 1.2,6 2.75,6 C3.6,6 4.3,5.7 4.7,5.2"/><path vector-effect="non-scaling-stroke" transform="translate(34.100,0)" d="M0,5.8 L4.2,10.0 M4.2,5.8 L0,10.0"/><path vector-effect="non-scaling-stroke" transform="translate(42.900,0)" d="M2.75,0 C4.7,0 5.5,1.6 5.5,4.2 L5.5,7.8 C5.5,10.4 4.7,12 2.75,12 C0.8,12 0,10.4 0,7.8 L0,4.2 C0,1.6 0.8,0 2.75,0 Z"/><path vector-effect="non-scaling-stroke" transform="translate(51.600,0)" d="M0,11.7 L0.3,11.7"/><path vector-effect="non-scaling-stroke" transform="translate(55.100,0)" d="M0,0 L5.5,0 C3.8,3.5 2.6,7 1.9,12"/><path vector-effect="non-scaling-stroke" transform="translate(65.200,0)" d="M2.75,5.6 C1.2,5.6 0.3,4.5 0.3,2.8 C0.3,1.1 1.3,0 2.75,0 C4.2,0 5.2,1.1 5.2,2.8 C5.2,4.5 4.3,5.6 2.75,5.6 C1.1,5.6 0,6.9 0,8.8 C0,10.8 1.2,12 2.75,12 C4.3,12 5.5,10.8 5.5,8.8 C5.5,6.9 4.4,5.6 2.75,5.6 Z"/></g>
<line x1="963.50" y1="431.50" x2="1036.80" y2="431.50" stroke="#777" stroke-width="1" fill="none"/>
<polygon points="963.50,431.50 973.50,430.00 973.50,433.00" fill="#000"/>
<polygon points="1036.30,431.50 1026.30,433.00 1026.30,430.00" fill="#000"/>
<g transform="translate(991.20,428.50) rotate(0) translate(1.125,-13.875) scale(0.9589,1.0625)" fill="none" stroke="#000" stroke-width="2.25" stroke-linecap="round" stroke-linejoin="round" ><path vector-effect="non-scaling-stroke" transform="translate(0.000,0)" d="M0.1,2.7 C0.4,0.9 1.4,0 2.8,0 C4.4,0 5.4,1.1 5.4,2.9 C5.4,4.3 4.8,5.3 3.8,6.5 L0,12 L5.6,12"/><path vector-effect="non-scaling-stroke" transform="translate(10.200,0)" d="M0.1,2.7 C0.4,0.9 1.4,0 2.8,0 C4.4,0 5.4,1.1 5.4,2.9 C5.4,4.3 4.8,5.3 3.8,6.5 L0,12 L5.6,12"/></g>
<line x1="806.70" y1="585.70" x2="951.80" y2="585.70" stroke="#777" stroke-width="1" fill="none"/>
<polygon points="806.70,585.70 816.70,584.10 816.70,587.30" fill="#000"/>
<polygon points="951.80,585.70 941.80,587.30 941.80,584.10" fill="#000"/>
<g transform="translate(869.70,582.20) rotate(0) translate(1.300,-12.800) scale(0.9765,0.9583)" fill="none" stroke="#000" stroke-width="2.6" stroke-linecap="round" stroke-linejoin="round" ><path vector-effect="non-scaling-stroke" transform="translate(0.000,0)" d="M4.4,0 L0,8.7 L6.2,8.7 M4.7,5.0 L4.7,12"/><path vector-effect="non-scaling-stroke" transform="translate(10.800,0)" d="M4.4,0 L0,8.7 L6.2,8.7 M4.7,5.0 L4.7,12"/></g>
<polygon points="701.10,204.80 703.00,216.80 699.20,216.80" fill="#000"/>
<polygon points="701.10,492.00 699.20,480.00 703.00,480.00" fill="#000"/>
<g transform="translate(697.80,360.40) rotate(-90) translate(1.100,-10.200) scale(0.7920,0.7583)" fill="none" stroke="#000" stroke-width="2.2" stroke-linecap="round" stroke-linejoin="round" ><path vector-effect="non-scaling-stroke" transform="translate(0.000,0)" d="M3.6,2.4 C5.5,2.4 7.0,4.0 7.0,6.8 C7.0,9.4 5.6,10.6 3.6,10.6 C1.6,10.6 0.2,9.4 0.2,6.8 C0.2,4.0 1.7,2.4 3.6,2.4 Z M0.9,12.6 L6.3,0.6"/><path vector-effect="non-scaling-stroke" transform="translate(11.800,0)" d="M2.75,5.6 C1.2,5.6 0.3,4.5 0.3,2.8 C0.3,1.1 1.3,0 2.75,0 C4.2,0 5.2,1.1 5.2,2.8 C5.2,4.5 4.3,5.6 2.75,5.6 C1.1,5.6 0,6.9 0,8.8 C0,10.8 1.2,12 2.75,12 C4.3,12 5.5,10.8 5.5,8.8 C5.5,6.9 4.4,5.6 2.75,5.6 Z"/><path vector-effect="non-scaling-stroke" transform="translate(21.900,0)" d="M0,0 L5.5,0 C3.8,3.5 2.6,7 1.9,12"/></g>
<line x1="811.40" y1="421.00" x2="872.90" y2="537.50" stroke="#777" stroke-width="1" fill="none"/>
<line x1="872.90" y1="537.50" x2="920.70" y2="537.50" stroke="#777" stroke-width="1" fill="none"/>
<polygon points="811.40,421.00 818.95,430.59 815.06,432.64" fill="#000"/>
<g transform="translate(876.10,533.80) rotate(0) translate(1.300,-12.200) scale(1.0000,0.9083)" fill="none" stroke="#000" stroke-width="2.6" stroke-linecap="round" stroke-linejoin="round" ><path vector-effect="non-scaling-stroke" transform="translate(0.000,0)" d="M0.1,2.7 C0.4,0.9 1.4,0 2.8,0 C4.4,0 5.4,1.1 5.4,2.9 C5.4,4.3 4.8,5.3 3.8,6.5 L0,12 L5.6,12"/><path vector-effect="non-scaling-stroke" transform="translate(10.200,0)" d="M0,7.2 L4.2,7.2"/><path vector-effect="non-scaling-stroke" transform="translate(19.000,0)" d="M0,2.4 L3,0 L3,12"/><path vector-effect="non-scaling-stroke" transform="translate(26.600,0)" d="M0,12.4 L4.6,-0.4"/><path vector-effect="non-scaling-stroke" transform="translate(35.800,0)" d="M4.4,0 L0,8.7 L6.2,8.7 M4.7,5.0 L4.7,12"/></g>
<g transform="translate(872.20,557.80) rotate(0) translate(0.625,-13.275) scale(0.9140,1.0542)" fill="none" stroke="#444" stroke-width="1.25" stroke-linecap="round" stroke-linejoin="round" ><path vector-effect="non-scaling-stroke" transform="translate(0.000,0)" d="M0.1,2.7 C0.4,0.9 1.4,0 2.8,0 C4.4,0 5.4,1.1 5.4,2.9 C5.4,4.3 4.8,5.3 3.8,6.5 L0,12 L5.6,12"/><path vector-effect="non-scaling-stroke" transform="translate(10.200,0)" d="M2.75,0 C4.7,0 5.5,1.6 5.5,4.2 L5.5,7.8 C5.5,10.4 4.7,12 2.75,12 C0.8,12 0,10.4 0,7.8 L0,4.2 C0,1.6 0.8,0 2.75,0 Z"/></g>
<g id="cjk" stroke="#333" stroke-width="1.25" fill="none" stroke-linecap="round" stroke-linejoin="round"><path d="M891.5,543.4 H900 M892.2,543.4 V547.8 M891,547.8 H901 M897,543 V557.3 Q897,558.3 895.8,557.6 M896,549.2 L890.8,555"/><path d="M909.4,544.2 L904.3,556.8"/><path d="M912.8,545.4 H922.4 M915.6,542.6 V546.6 M919.8,542.6 V546.6 M914.8,552.3 V549.5 H921.8 V552.3 M918.4,546.8 V552.3 M912.4,552.3 H922.9 M918.2,552.6 L913,558.2 M918.8,553.2 L922.5,558.2"/><path d="M925.3,546.9 H935.5 M930.7,541.8 V557.3 Q930.7,558.5 929.3,557.6 M927.4,549.6 L928.4,551.2"/></g>
</svg></body></html>
